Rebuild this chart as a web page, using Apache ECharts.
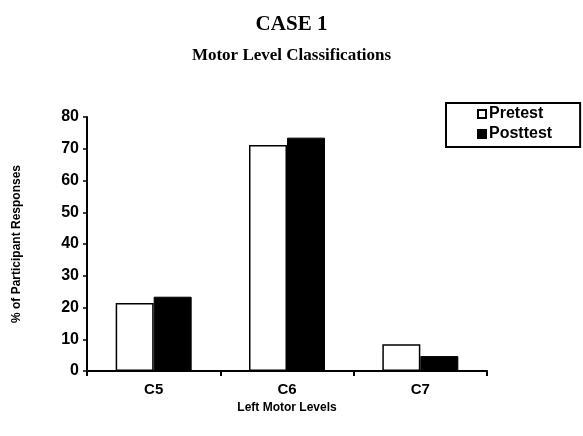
<!DOCTYPE html>
<html lang="en">
<head>
    <meta charset="UTF-8">
    <title>Case 1</title>
    <script src="https://cdn.jsdelivr.net/npm/echarts@6/dist/echarts.min.js"></script>
    <style>
        body{ margin: 0; background: #fff; }
    </style>
</head>
<body>
    <div id="main" style="width: 583px; height: 436px;"></div>

    <script>
        // data
        var levels = ['C5', 'C6', 'C7'];
        var pretest = [21.4, 71.2, 8.4];
        var posttest = [23.4, 73.5, 4.7];

        var mycharts = echarts.init(document.getElementById("main"));

        var option = {
            animation: false,
            title: [{
                text: 'CASE 1',
                left: 'center',
                top: 9,
                textStyle: { fontFamily: 'Liberation Serif', fontWeight: 'bold', fontSize: 21, color: '#000' }
            }, {
                text: 'Motor Level Classifications',
                left: 'center',
                top: 42,
                textStyle: { fontFamily: 'Liberation Serif', fontWeight: 'bold', fontSize: 17, color: '#000' }
            }],
            legend: {
                orient: 'vertical',
                left: 446,
                top: 103,
                padding: [3, 28, 5, 31],
                borderColor: '#000',
                borderWidth: 2,
                itemWidth: 8,
                itemHeight: 8,
                itemGap: 4,
                icon: 'rect',
                textStyle: { fontFamily: 'Liberation Sans', fontWeight: 'bold', fontSize: 16, color: '#000', padding: [0, 0, 0, -2] },
                data: ['Pretest', 'Posttest']
            },
            grid: { left: 87, right: 96, top: 117, bottom: 65 },
            xAxis: {
                type: 'category',
                data: levels,
                name: 'Left Motor Levels',
                nameLocation: 'middle',
                nameGap: 31,
                nameTextStyle: { fontFamily: 'Liberation Sans', fontWeight: 'bold', fontSize: 12, color: '#000' },
                axisLine: { lineStyle: { color: '#000', width: 2 } },
                axisTick: { show: true, length: 5, lineStyle: { color: '#000', width: 2 } },
                axisLabel: { margin: 11, fontFamily: 'Liberation Sans', fontWeight: 'bold', fontSize: 15, color: '#000' }
            },
            yAxis: {
                type: 'value',
                min: 0,
                max: 80,
                interval: 10,
                name: '% of Participant Responses',
                nameLocation: 'middle',
                nameGap: 64,
                nameTextStyle: { fontFamily: 'Liberation Sans', fontWeight: 'bold', fontSize: 12, color: '#000' },
                splitLine: { show: false },
                axisLine: { show: true, lineStyle: { color: '#000', width: 2 } },
                axisTick: { show: true, length: 4, lineStyle: { color: '#000', width: 1.5 } },
                axisLabel: { margin: 8, fontFamily: 'Liberation Sans', fontWeight: 'bold', fontSize: 16, color: '#000' }
            },
            series: [{
                name: 'Pretest',
                type: 'bar',
                data: pretest,
                barWidth: 38,
                barGap: '0%',
                itemStyle: { color: '#fff', borderColor: '#000', borderWidth: 1.5 }
            }, {
                name: 'Posttest',
                type: 'bar',
                data: posttest,
                barWidth: 38,
                barGap: '0%',
                itemStyle: { color: '#000', borderColor: '#000', borderWidth: 1 }
            }]
        };

        mycharts.setOption(option);
    </script>
</body>
</html>
